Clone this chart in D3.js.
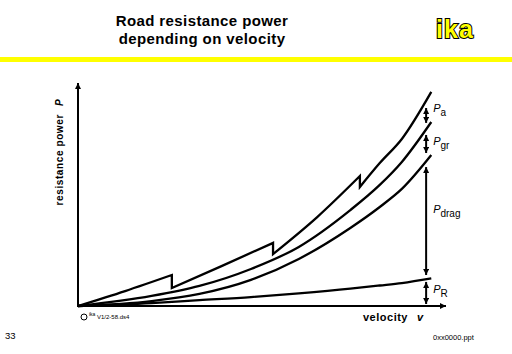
<!doctype html>
<html lang="en">
  <head>
    <meta charset="UTF-8" />
    <title>Road resistance power depending on velocity</title>
    <script src="https://d3js.org/d3.v7.min.js"></script>
    <style>
      body {
        margin: 0;
        background: #fff;
        font-family: 'Liberation Sans', Arial, sans-serif;
      }
      .title {
        font-size: 15px;
        font-weight: bold;
        letter-spacing: 0.4px;
        fill: #000;
      }
      .curve {
        fill: none;
        stroke: #000;
        stroke-width: 2.3;
      }
      .axis-line {
        stroke: #000;
        stroke-width: 2;
      }
      .dim-arrow {
        stroke: #000;
        stroke-width: 2;
      }
      .axis-label {
        font-size: 10px;
        font-weight: bold;
      }
      .comp-label {
        font-size: 11px;
      }
    </style>
  </head>
  <body>
    <svg id="chart"></svg>
    <script>
      const W = 512
      const H = 354

      // velocity samples (relative units) and cumulative power curves
      const velocity = [0, 20, 33, 47, 60, 74, 82, 88, 96]
      const rollingPower = [0, 1.3, 2.6, 4.0, 5.7, 7.8, 9.2, 10.3, 12.4]
      const dragPower = [0, 2.2, 5.4, 11.7, 21.1, 35.0, 44.4, 52.5, 67.7]
      const gradePower = [0, 4.5, 9.0, 16.6, 26.5, 43.0, 54.3, 64.6, 82.5]

      // acceleration curve, one piece per gear
      const gearVelocity = [
        [0, 12.8, 25.5],
        [25.5, 39, 53],
        [53, 65, 76.6],
        [76.6, 82, 88, 96],
      ]
      const gearPower = [
        [0, 6.7, 13.9],
        [8.1, 17.9, 28.3],
        [23.3, 39.9, 58.3],
        [53.4, 64.1, 74.9, 96.0],
      ]

      // dimension arrows on the right
      const arrowVelocity = 94.6
      const arrowNames = ['a', 'gr', 'drag', 'R']
      const arrowTop = [88.8, 76.7, 62.3, 10.8]
      const arrowBottom = [82.1, 68.6, 13.9, 0.9]
      const labelPower = [87.0, 72.2, 41.7, 5.8]

      const svg = d3.select('#chart').attr('width', W).attr('height', H)

      const x = d3.scaleLinear().domain([0, 100]).range([78, 446])
      const y = d3.scaleLinear().domain([0, 100]).range([306, 83])

      // header
      svg
        .append('text')
        .attr('class', 'title')
        .attr('x', 202)
        .attr('y', 26)
        .attr('text-anchor', 'middle')
        .text('Road resistance power')
      svg
        .append('text')
        .attr('class', 'title')
        .attr('x', 202)
        .attr('y', 44)
        .attr('text-anchor', 'middle')
        .text('depending on velocity')

      svg
        .append('text')
        .attr('x', 455)
        .attr('y', 38)
        .attr('text-anchor', 'middle')
        .style('font-size', '25px')
        .style('font-weight', 'bold')
        .style('letter-spacing', '1px')
        .style('fill', '#ffff00')
        .style('stroke', '#000')
        .style('stroke-width', 2)
        .style('paint-order', 'stroke')
        .text('ika')

      svg.append('rect').attr('x', 0).attr('y', 57).attr('width', W).attr('height', 5).attr('fill', '#ffff00')

      // arrow markers
      const defs = svg.append('defs')
      defs
        .append('marker')
        .attr('id', 'head')
        .attr('viewBox', '0 0 10 10')
        .attr('refX', 10)
        .attr('refY', 5)
        .attr('markerUnits', 'userSpaceOnUse')
        .attr('markerWidth', 6)
        .attr('markerHeight', 6)
        .attr('orient', 'auto-start-reverse')
        .append('path')
        .attr('d', 'M0,0L10,5L0,10z')
        .attr('fill', '#000')

      // axes
      svg
        .append('line')
        .attr('class', 'axis-line')
        .attr('x1', x(0))
        .attr('x2', x(0))
        .attr('y1', y(0) + 1)
        .attr('y2', y(100))
        .attr('marker-end', 'url(#head)')
      svg
        .append('line')
        .attr('class', 'axis-line')
        .attr('x1', x(0) - 1)
        .attr('x2', x(100))
        .attr('y1', y(0))
        .attr('y2', y(0))
        .attr('marker-end', 'url(#head)')

      // curves
      const line = d3
        .line()
        .x((d) => x(d[0]))
        .y((d) => y(d[1]))
        .curve(d3.curveMonotoneX)

      ;[rollingPower, dragPower, gradePower].forEach((p) => {
        svg
          .append('path')
          .attr('class', 'curve')
          .attr('d', line(velocity.map((v, i) => [v, p[i]])))
      })

      const accelPath = gearVelocity
        .map((vs, g) => {
          const d = line(vs.map((v, i) => [v, gearPower[g][i]]))
          return g === 0 ? d : 'L' + d.slice(1)
        })
        .join('')
      svg.append('path').attr('class', 'curve').attr('d', accelPath)

      // dimension arrows + labels
      arrowNames.forEach((name, i) => {
        svg
          .append('line')
          .attr('class', 'dim-arrow')
          .attr('x1', x(arrowVelocity))
          .attr('x2', x(arrowVelocity))
          .attr('y1', y(arrowBottom[i]))
          .attr('y2', y(arrowTop[i]))
          .attr('marker-start', 'url(#head)')
          .attr('marker-end', 'url(#head)')

        const t = svg
          .append('text')
          .attr('class', 'comp-label')
          .attr('x', x(arrowVelocity) + 7)
          .attr('y', y(labelPower[i]))
        t.append('tspan').style('font-style', 'italic').text('P')
        t.append('tspan').attr('dy', 4).style('font-size', '10px').text(name)
      })

      // axis titles
      const yl = svg
        .append('text')
        .attr('class', 'axis-label')
        .attr('transform', `translate(63,${y(69)}) rotate(-90)`)
        .attr('text-anchor', 'middle')
        .style('letter-spacing', '0.6px')
      yl.append('tspan').text('resistance power')
      yl.append('tspan').attr('dx', 8).style('font-style', 'italic').text('P')

      const xl = svg
        .append('text')
        .attr('class', 'axis-label')
        .attr('x', 363)
        .attr('y', 321)
        .style('font-size', '11px')
        .style('letter-spacing', '0.5px')
      xl.append('tspan').text('velocity')
      xl.append('tspan').attr('dx', 9).style('font-style', 'italic').text('v')

      // footer
      svg
        .append('circle')
        .attr('cx', 84)
        .attr('cy', 317)
        .attr('r', 3)
        .attr('fill', 'none')
        .attr('stroke', '#000')
        .attr('stroke-width', 1)
      svg.append('text').attr('x', 89).attr('y', 316).style('font-size', '5px').text('ika')
      svg.append('text').attr('x', 97).attr('y', 319).style('font-size', '6px').text('V1/2-58.ds4')

      svg.append('text').attr('x', 5).attr('y', 339).style('font-size', '9.5px').text('33')
      svg.append('text').attr('x', 433).attr('y', 340).style('font-size', '7.5px').text('0xx0000.ppt')
    </script>
  </body>
</html>
